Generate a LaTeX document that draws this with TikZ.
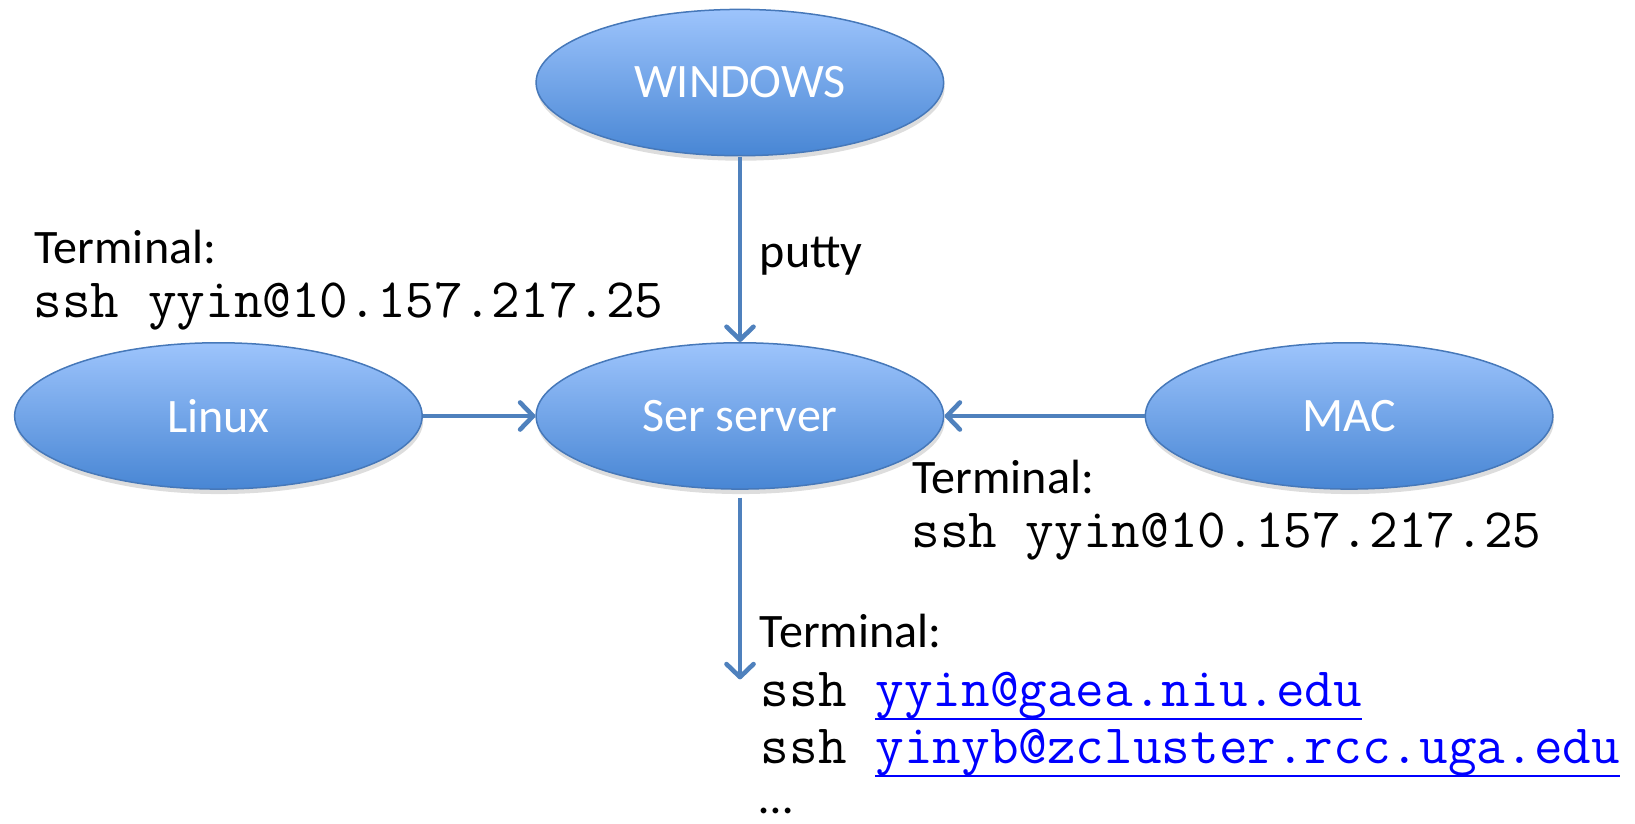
\documentclass[tikz,border=0pt]{standalone}
\usepackage{fontspec}
\setmainfont{Carlito}
\usetikzlibrary{shapes.geometric,arrows.meta,shadows}
\definecolor{arrowblue}{RGB}{79,129,189}
\definecolor{edgeblue}{RGB}{70,120,185}
\definecolor{topblue}{RGB}{157,196,252}
\definecolor{botblue}{RGB}{72,134,212}
\definecolor{linkblue}{RGB}{0,0,255}
\newcommand\mylink[1]{\textcolor{linkblue}{\setbox0=\hbox{#1}\rlap{\rule[-13pt]{\wd0}{2pt}}\box0}}
\begin{document}
\begin{tikzpicture}[x=1pt,y=-1pt,scale=1.045,transform shape,
  bubble/.style={ellipse, minimum width=390pt, minimum height=140pt, inner sep=0pt,
    draw=edgeblue, line width=1.5pt, top color=topblue, bottom color=botblue,
    text=white, font=\fontsize{46}{54}\selectfont,
    drop shadow={shadow xshift=1pt, shadow yshift=-5pt, opacity=0.22, fill=black!60}},
  conn/.style={draw=arrowblue, line width=4.6pt,
    -{Straight Barb[length=13pt,width=27pt,line cap=round,line join=round]}},
  lbl/.style={anchor=base west, inner sep=0pt, font=\fontsize{46}{54}\selectfont},
  mono/.style={anchor=base west, inner sep=0pt, font=\fontsize{53.2}{60}\selectfont\ttfamily}]
\useasboundingbox (0,0) rectangle (1564.6,787.6);
\node[bubble] (win) at (708,79) {WINDOWS};
\node[bubble] (srv) at (708,398) {Ser server};
\node[bubble] (lin) at (209,398) {Linux};
\node[bubble] (mac) at (1291,398) {MAC};
\coordinate (down) at (708,650);
\coordinate (srvbot) at (708,476);
\draw[conn] (win.south) -- (srv.north);
\draw[conn] (lin.east) -- (srv.west);
\draw[conn] (mac.west) -- (srv.east);
\draw[conn] (srvbot) -- (down);
\node[lbl] (t1) at (33,252) {Terminal:};
\node[mono] (s1) at (32,304) {ssh yyin@10.157.217.25};
\node[lbl] (putty) at (727,256) {putty};
\node[lbl] (t2) at (873,472) {Terminal:};
\node[mono] (s2) at (872,524) {ssh yyin@10.157.217.25};
\node[lbl] (t3) at (727,620) {Terminal:};
\node[mono] (s3) at (728,676) {ssh \mylink{yyin@gaea.niu.edu}};
\node[mono] (s4) at (728,731) {ssh \mylink{yinyb@zcluster.rcc.uga.edu}};
\node[lbl] (dots) at (727,778) {…};
\end{tikzpicture}
\end{document}
